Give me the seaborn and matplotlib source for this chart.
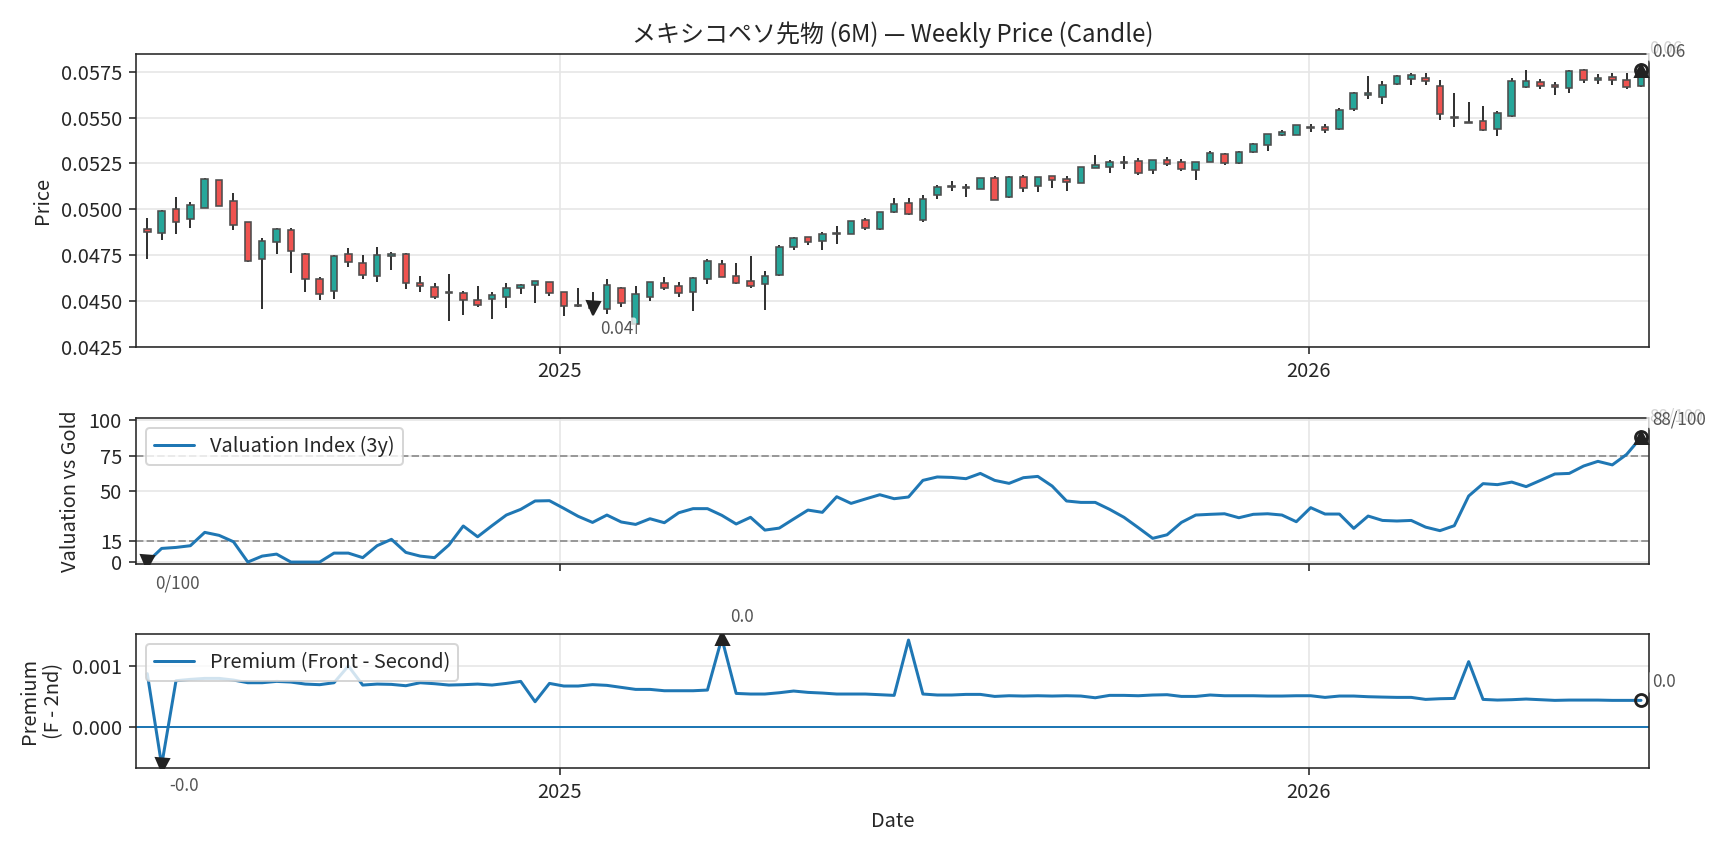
import pandas as pd
import numpy as np
import seaborn as sns
import matplotlib
matplotlib.use("Agg")
import matplotlib.pyplot as plt
import matplotlib.dates as mdates
from matplotlib.ticker import MultipleLocator, FormatStrFormatter

# weekly candles (open, high, low, close)
dates = pd.date_range("2024-06-14", periods=105, freq="7D")

opens = [0.04893, 0.04873, 0.05000, 0.04947, 0.05007, 0.05158, 0.05043, 0.04929, 0.04732, 0.04824,
         0.04886, 0.04755, 0.04620, 0.04553, 0.04755, 0.04707, 0.04639, 0.04748, 0.04755, 0.04596,
         0.04576, 0.04549, 0.04543, 0.04506, 0.04509, 0.04520, 0.04569, 0.04585, 0.04603, 0.04549,
         0.04478, 0.04475, 0.04455, 0.04574, 0.04373, 0.04522, 0.04596, 0.04582, 0.04551, 0.04621,
         0.04703, 0.04636, 0.04609, 0.04591, 0.04643, 0.04792, 0.04848, 0.04830, 0.04868, 0.04866,
         0.04942, 0.04890, 0.04984, 0.05033, 0.04940, 0.05076, 0.05123, 0.05116, 0.05112, 0.05170,
         0.05067, 0.05176, 0.05129, 0.05179, 0.05163, 0.05143, 0.05226, 0.05230, 0.05252, 0.05261,
         0.05216, 0.05266, 0.05255, 0.05216, 0.05257, 0.05303, 0.05252, 0.05312, 0.05351, 0.05404,
         0.05406, 0.05444, 0.05451, 0.05438, 0.05545, 0.05625, 0.05611, 0.05681, 0.05710, 0.05717,
         0.05674, 0.05504, 0.05478, 0.05480, 0.05438, 0.05509, 0.05665, 0.05696, 0.05676, 0.05661,
         0.05761, 0.05707, 0.05723, 0.05707, 0.05672]
highs = [0.04953, 0.04996, 0.05069, 0.05040, 0.05172, 0.05160, 0.05089, 0.04930, 0.04844, 0.04899,
         0.04897, 0.04763, 0.04630, 0.04750, 0.04790, 0.04752, 0.04797, 0.04770, 0.04763, 0.04638,
         0.04600, 0.04649, 0.04556, 0.04580, 0.04551, 0.04596, 0.04594, 0.04611, 0.04605, 0.04549,
         0.04572, 0.04551, 0.04618, 0.04576, 0.04582, 0.04605, 0.04629, 0.04605, 0.04632, 0.04732,
         0.04726, 0.04710, 0.04746, 0.04665, 0.04803, 0.04851, 0.04849, 0.04877, 0.04911, 0.04937,
         0.04953, 0.04986, 0.05062, 0.05062, 0.05078, 0.05132, 0.05154, 0.05136, 0.05170, 0.05179,
         0.05179, 0.05187, 0.05178, 0.05183, 0.05183, 0.05230, 0.05295, 0.05266, 0.05288, 0.05279,
         0.05268, 0.05284, 0.05275, 0.05257, 0.05317, 0.05305, 0.05317, 0.05361, 0.05410, 0.05433,
         0.05460, 0.05466, 0.05462, 0.05551, 0.05639, 0.05726, 0.05697, 0.05734, 0.05741, 0.05741,
         0.05705, 0.05636, 0.05585, 0.05563, 0.05534, 0.05714, 0.05759, 0.05710, 0.05692, 0.05759,
         0.05764, 0.05736, 0.05741, 0.05741, 0.05762]
lows = [0.04730, 0.04835, 0.04864, 0.04897, 0.05005, 0.05018, 0.04886, 0.04712, 0.04458, 0.04757,
        0.04654, 0.04549, 0.04507, 0.04513, 0.04685, 0.04621, 0.04603, 0.04668, 0.04567, 0.04551,
        0.04513, 0.04391, 0.04424, 0.04469, 0.04402, 0.04462, 0.04538, 0.04489, 0.04527, 0.04418,
        0.04470, 0.04455, 0.04428, 0.04469, 0.04322, 0.04500, 0.04560, 0.04522, 0.04446, 0.04591,
        0.04630, 0.04594, 0.04571, 0.04451, 0.04639, 0.04777, 0.04804, 0.04781, 0.04813, 0.04864,
        0.04886, 0.04888, 0.04982, 0.04969, 0.04933, 0.05056, 0.05098, 0.05067, 0.05110, 0.05049,
        0.05060, 0.05092, 0.05092, 0.05114, 0.05098, 0.05141, 0.05224, 0.05196, 0.05219, 0.05187,
        0.05190, 0.05234, 0.05207, 0.05161, 0.05255, 0.05239, 0.05248, 0.05304, 0.05317, 0.05397,
        0.05404, 0.05420, 0.05413, 0.05433, 0.05538, 0.05603, 0.05576, 0.05676, 0.05676, 0.05676,
        0.05484, 0.05451, 0.05469, 0.05426, 0.05402, 0.05502, 0.05659, 0.05654, 0.05621, 0.05632,
        0.05687, 0.05681, 0.05679, 0.05654, 0.05665]
closes = [0.04879, 0.04989, 0.04931, 0.05022, 0.05165, 0.05020, 0.04917, 0.04719, 0.04826, 0.04891,
          0.04772, 0.04618, 0.04536, 0.04745, 0.04712, 0.04641, 0.04750, 0.04755, 0.04600, 0.04580,
          0.04520, 0.04545, 0.04504, 0.04476, 0.04533, 0.04571, 0.04585, 0.04609, 0.04545, 0.04471,
          0.04471, 0.04462, 0.04585, 0.04491, 0.04536, 0.04603, 0.04574, 0.04542, 0.04625, 0.04719,
          0.04632, 0.04600, 0.04582, 0.04636, 0.04795, 0.04842, 0.04824, 0.04864, 0.04871, 0.04935,
          0.04899, 0.04984, 0.05031, 0.04973, 0.05058, 0.05121, 0.05129, 0.05121, 0.05169, 0.05053,
          0.05176, 0.05118, 0.05176, 0.05158, 0.05147, 0.05228, 0.05243, 0.05255, 0.05259, 0.05197,
          0.05266, 0.05248, 0.05221, 0.05255, 0.05304, 0.05252, 0.05313, 0.05355, 0.05408, 0.05422,
          0.05457, 0.05451, 0.05433, 0.05543, 0.05636, 0.05632, 0.05679, 0.05726, 0.05730, 0.05699,
          0.05520, 0.05495, 0.05471, 0.05433, 0.05524, 0.05701, 0.05701, 0.05672, 0.05668, 0.05752,
          0.05705, 0.05716, 0.05705, 0.05667, 0.05758]

# valuation index vs gold (0-100)
valuation = [0, 9.6, 10.3, 11.5, 20.9, 18.8, 14.3, 0, 4.2, 5.6,
             0, 0, 0, 6.3, 6.3, 3.1, 11.5, 16.0, 6.8, 4.2,
             3.1, 12.0, 25.4, 17.8, 25.6, 33.1, 37.1, 43.0, 43.2, 37.8,
             32.2, 27.9, 33.1, 28.2, 26.5, 30.5, 27.7, 34.7, 37.6, 37.6,
             32.9, 26.8, 31.5, 22.5, 23.9, 30.3, 36.6, 35.0, 46.0, 41.3,
             44.4, 47.4, 44.6, 45.8, 57.5, 59.9, 59.6, 58.7, 62.4, 57.5,
             55.4, 59.4, 60.3, 53.5, 43.0, 42.0, 42.0, 37.1, 31.5, 24.2,
             16.7, 19.2, 27.9, 33.1, 33.6, 34.0, 31.2, 33.6, 34.0, 33.1,
             28.4, 38.3, 33.8, 33.8, 23.7, 32.4, 29.3, 28.9, 29.3, 24.6,
             22.1, 25.6, 46.5, 55.2, 54.5, 56.3, 53.1, 57.5, 62.0, 62.4,
             67.6, 70.9, 68.4, 75.8, 87.8]

# front - second month premium
premium = [0.00087, -0.00063, 0.000754, 0.000776, 0.000792, 0.000792, 0.000765, 0.000721, 0.000721, 0.000743,
           0.000732, 0.000699, 0.000689, 0.000721, 0.000995, 0.000683, 0.000699, 0.000694, 0.000672, 0.000721,
           0.000705, 0.000683, 0.000689, 0.000699, 0.000683, 0.000710, 0.000743, 0.00041, 0.00071, 0.000667,
           0.000667, 0.000690, 0.000678, 0.000645, 0.000612, 0.000612, 0.00059, 0.00059, 0.00059, 0.000601,
           0.00145, 0.000546, 0.000536, 0.000536, 0.000557, 0.000585, 0.000563, 0.000552, 0.000536, 0.000536,
           0.000536, 0.000525, 0.000514, 0.00142, 0.000536, 0.00052, 0.00052, 0.00053, 0.00053, 0.000497,
           0.000508, 0.000503, 0.000508, 0.000503, 0.000508, 0.000503, 0.000475, 0.000514, 0.000514, 0.000508,
           0.00052, 0.000525, 0.000497, 0.000497, 0.00052, 0.000508, 0.000508, 0.000508, 0.000503, 0.000503,
           0.000508, 0.000508, 0.000481, 0.000503, 0.000503, 0.000492, 0.000486, 0.000481, 0.000481, 0.000448,
           0.000459, 0.000464, 0.001066, 0.000448, 0.000437, 0.000443, 0.000454, 0.000443, 0.000432, 0.000437,
           0.000437, 0.000437, 0.000432, 0.000432, 0.000432]

df = pd.DataFrame({"date": dates, "open": opens, "high": highs, "low": lows,
                   "close": closes, "valuation": valuation, "premium": premium})

sns.set_style("ticks")
plt.rcParams["font.family"] = ["Noto Sans CJK JP", "DejaVu Sans"]
plt.rcParams["axes.unicode_minus"] = False

UP = "#26a69a"
DOWN = "#ef5350"
MARK = "#222222"
ANN = dict(fontsize=8.5, color="#555555", textcoords="offset points",
           bbox=dict(boxstyle="round,pad=0.15", fc="white", ec="none", alpha=0.75))

fig = plt.figure(figsize=(12, 849 / 144), dpi=144)
ax1 = fig.add_axes([0.0787, 0.5913, 0.8756, 0.3451])
ax2 = fig.add_axes([0.0787, 0.3353, 0.8756, 0.1720])
ax3 = fig.add_axes([0.0787, 0.0958, 0.8756, 0.1575])

xlim = (dates[0] - pd.Timedelta(days=5.5), dates[-1] + pd.Timedelta(days=3.9))


def mark_points(ax, x, y, fmt):
    i_min = int(np.argmin(y))
    i_max = int(np.argmax(y))
    i_last = len(y) - 1
    ax.plot(x[i_min], y[i_min], marker="v", color=MARK, ms=6.5, ls="none", zorder=6)
    ax.plot(x[i_max], y[i_max], marker="^", color=MARK, ms=6.5, ls="none", zorder=6)
    ax.plot(x[i_last], y[i_last], marker="o", mfc="none", mec=MARK, mew=1.4, ms=6, ls="none", zorder=6)
    ax.annotate(fmt(y[i_min]), (x[i_min], y[i_min]), xytext=(4, -6), ha="left", va="top", **ANN)
    ax.annotate(fmt(y[i_max]), (x[i_max], y[i_max]), xytext=(4, 6), ha="left", va="bottom",
                annotation_clip=False, **ANN)
    ax.annotate(fmt(y[i_last]), (x[i_last], y[i_last]), xytext=(5.5, 4.5), ha="left", va="bottom",
                annotation_clip=False, **ANN)


# --- candles ---
up = df["close"] >= df["open"]
colors = np.where(up, UP, DOWN)
body_lo = np.minimum(df["open"], df["close"])
body_h = np.abs(df["close"] - df["open"]).clip(lower=0.00002)
ax1.vlines(df["date"], df["low"], df["high"], color="#333333", lw=1.0, zorder=2)
ax1.bar(df["date"], body_h, bottom=body_lo, width=3.2, color=colors,
        edgecolor="#4d4d4d", linewidth=0.8, zorder=3)
mark_points(ax1, list(df["date"]), list(df["close"]), lambda v: f"{v:.2f}")
ax1.set_ylim(0.0425, 0.05846)
ax1.yaxis.set_major_locator(MultipleLocator(0.0025))
ax1.yaxis.set_major_formatter(FormatStrFormatter("%.4f"))
ax1.set_ylabel("Price")
ax1.set_xlabel("")
ax1.set_title("メキシコペソ先物 (6M) — Weekly Price (Candle)", fontsize=12)

# --- valuation ---
sns.lineplot(data=df, x="date", y="valuation", ax=ax2, color="#1f77b4", lw=1.5,
             label="Valuation Index (3y)", zorder=4)
for lvl in (15, 75):
    ax2.axhline(lvl, color="#999999", ls="--", lw=1.0, zorder=1)
mark_points(ax2, list(df["date"]), list(df["valuation"]), lambda v: f"{v:.0f}/100")
ax2.set_ylim(-1.6, 101.2)
ax2.set_yticks([0, 15, 50, 75, 100])
ax2.set_ylabel("Valuation vs Gold")
ax2.set_xlabel("")
ax2.legend(loc="upper left", frameon=True, fontsize=10)
ax2.tick_params(axis="x", labelbottom=False)

# --- premium ---
sns.lineplot(data=df, x="date", y="premium", ax=ax3, color="#1f77b4", lw=1.5,
             label="Premium (Front - Second)", zorder=4)
ax3.axhline(0, color="#1f77b4", lw=1.0, zorder=2)
mark_points(ax3, list(df["date"]), list(df["premium"]), lambda v: f"{v:.1f}")
ax3.set_ylim(-0.00067, 0.00152)
ax3.yaxis.set_major_locator(MultipleLocator(0.001))
ax3.yaxis.set_major_formatter(FormatStrFormatter("%.3f"))
ax3.set_ylabel("Premium\n(F - 2nd)")
ax3.set_xlabel("Date")
ax3.legend(loc="upper left", frameon=True, fontsize=10)

for ax in (ax1, ax2, ax3):
    ax.set_xlim(xlim)
    ax.xaxis.set_major_locator(mdates.YearLocator())
    ax.xaxis.set_major_formatter(mdates.DateFormatter("%Y"))
    ax.grid(True, color="#e6e6e6", lw=0.8, zorder=0)
    ax.set_axisbelow(True)
    for s in ax.spines.values():
        s.set_visible(True)
        s.set_color("#262626")
        s.set_linewidth(0.8)

fig.savefig("out.png", dpi=144)
